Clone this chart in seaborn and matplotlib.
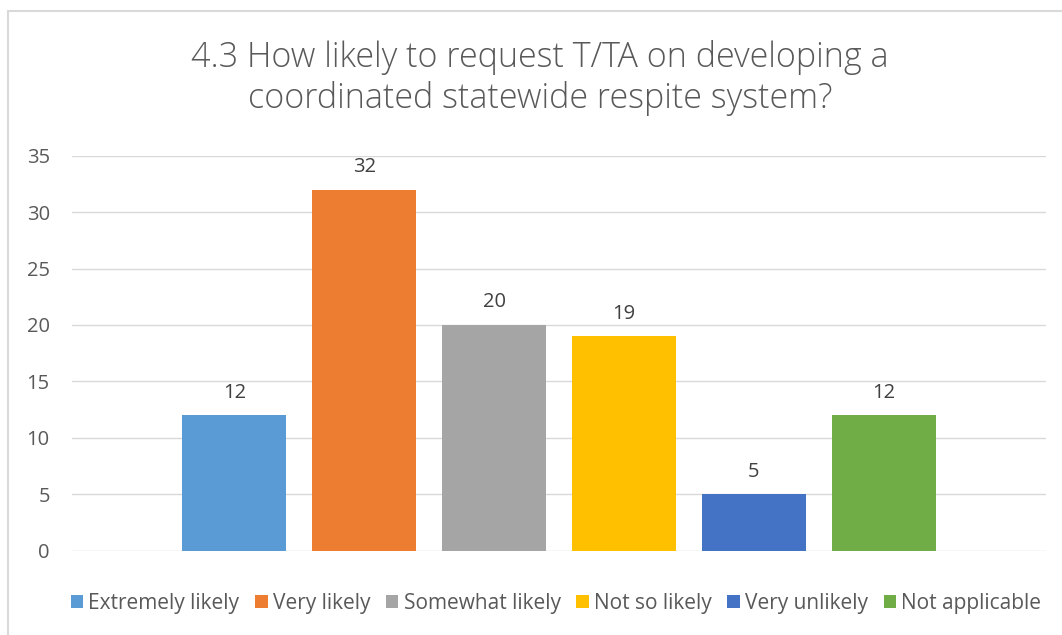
import pandas as pd
import matplotlib.pyplot as plt
import matplotlib.patches as mpatches
import seaborn as sns

# values
responses = ["Extremely likely", "Very likely", "Somewhat likely",
             "Not so likely", "Very unlikely", "Not applicable"]
counts = [12, 32, 20, 19, 5, 12]
colors = ["#5B9BD5", "#ED7D31", "#A5A5A5", "#FFC000", "#4472C4", "#70AD47"]
yticks = [0, 5, 10, 15, 20, 25, 30, 35]

df = pd.DataFrame({"question": "4.3", "response": responses, "count": counts})

sns.set_style("white")
plt.rcParams["font.family"] = ["Open Sans", "DejaVu Sans"]

fig = plt.figure(figsize=(10.62, 6.35), dpi=100)
ax = fig.add_axes([72 / 1062, 84.3 / 635, 974 / 1062, 395 / 635])

sns.barplot(data=df, x="question", y="count", hue="response",
            hue_order=responses, palette=colors, width=0.8, gap=0.2,
            saturation=1, linewidth=0, ax=ax, legend=True)

# data labels
for cont in ax.containers:
    ax.bar_label(cont, padding=9, fontsize=14.5, color="#404040")

ax.set_ylim(0, 35)
ax.set_yticks(yticks)
ax.set_xlim(-0.5, 0.5)
ax.set_xticks([])
ax.set_xlabel("")
ax.set_ylabel("")
ax.grid(axis="y", color="#d9d9d9", lw=1)
ax.set_axisbelow(True)
for s in ax.spines.values():
    s.set_visible(False)
ax.tick_params(axis="y", length=0, pad=16, labelsize=14.5, labelcolor="#595959")

# legend along the bottom
handles, labels = ax.get_legend_handles_labels()
ax.legend_.remove()
fig.legend(handles, labels, loc="center", bbox_to_anchor=(556 / 1062, 1 - 603 / 635),
           ncol=6, frameon=False, fontsize=15, labelcolor="#595959",
           handlelength=0.6, handleheight=0.6, handletextpad=0.25, columnspacing=0.75)

# title
fig.text(540 / 1062, 1 - 78 / 635,
         "4.3 How likely to request T/TA on developing a\ncoordinated statewide respite system?",
         ha="center", va="center", fontsize=24.5, color="#595959",
         linespacing=1.25, fontweight="light")

# chart border
fig.add_artist(mpatches.Rectangle((8 / 1062, -0.05), 1.0, 1.05 - 11 / 635,
                                  transform=fig.transFigure, fill=False,
                                  edgecolor="#d9d9d9", lw=1.5))

fig.savefig("out.png", dpi=100)
